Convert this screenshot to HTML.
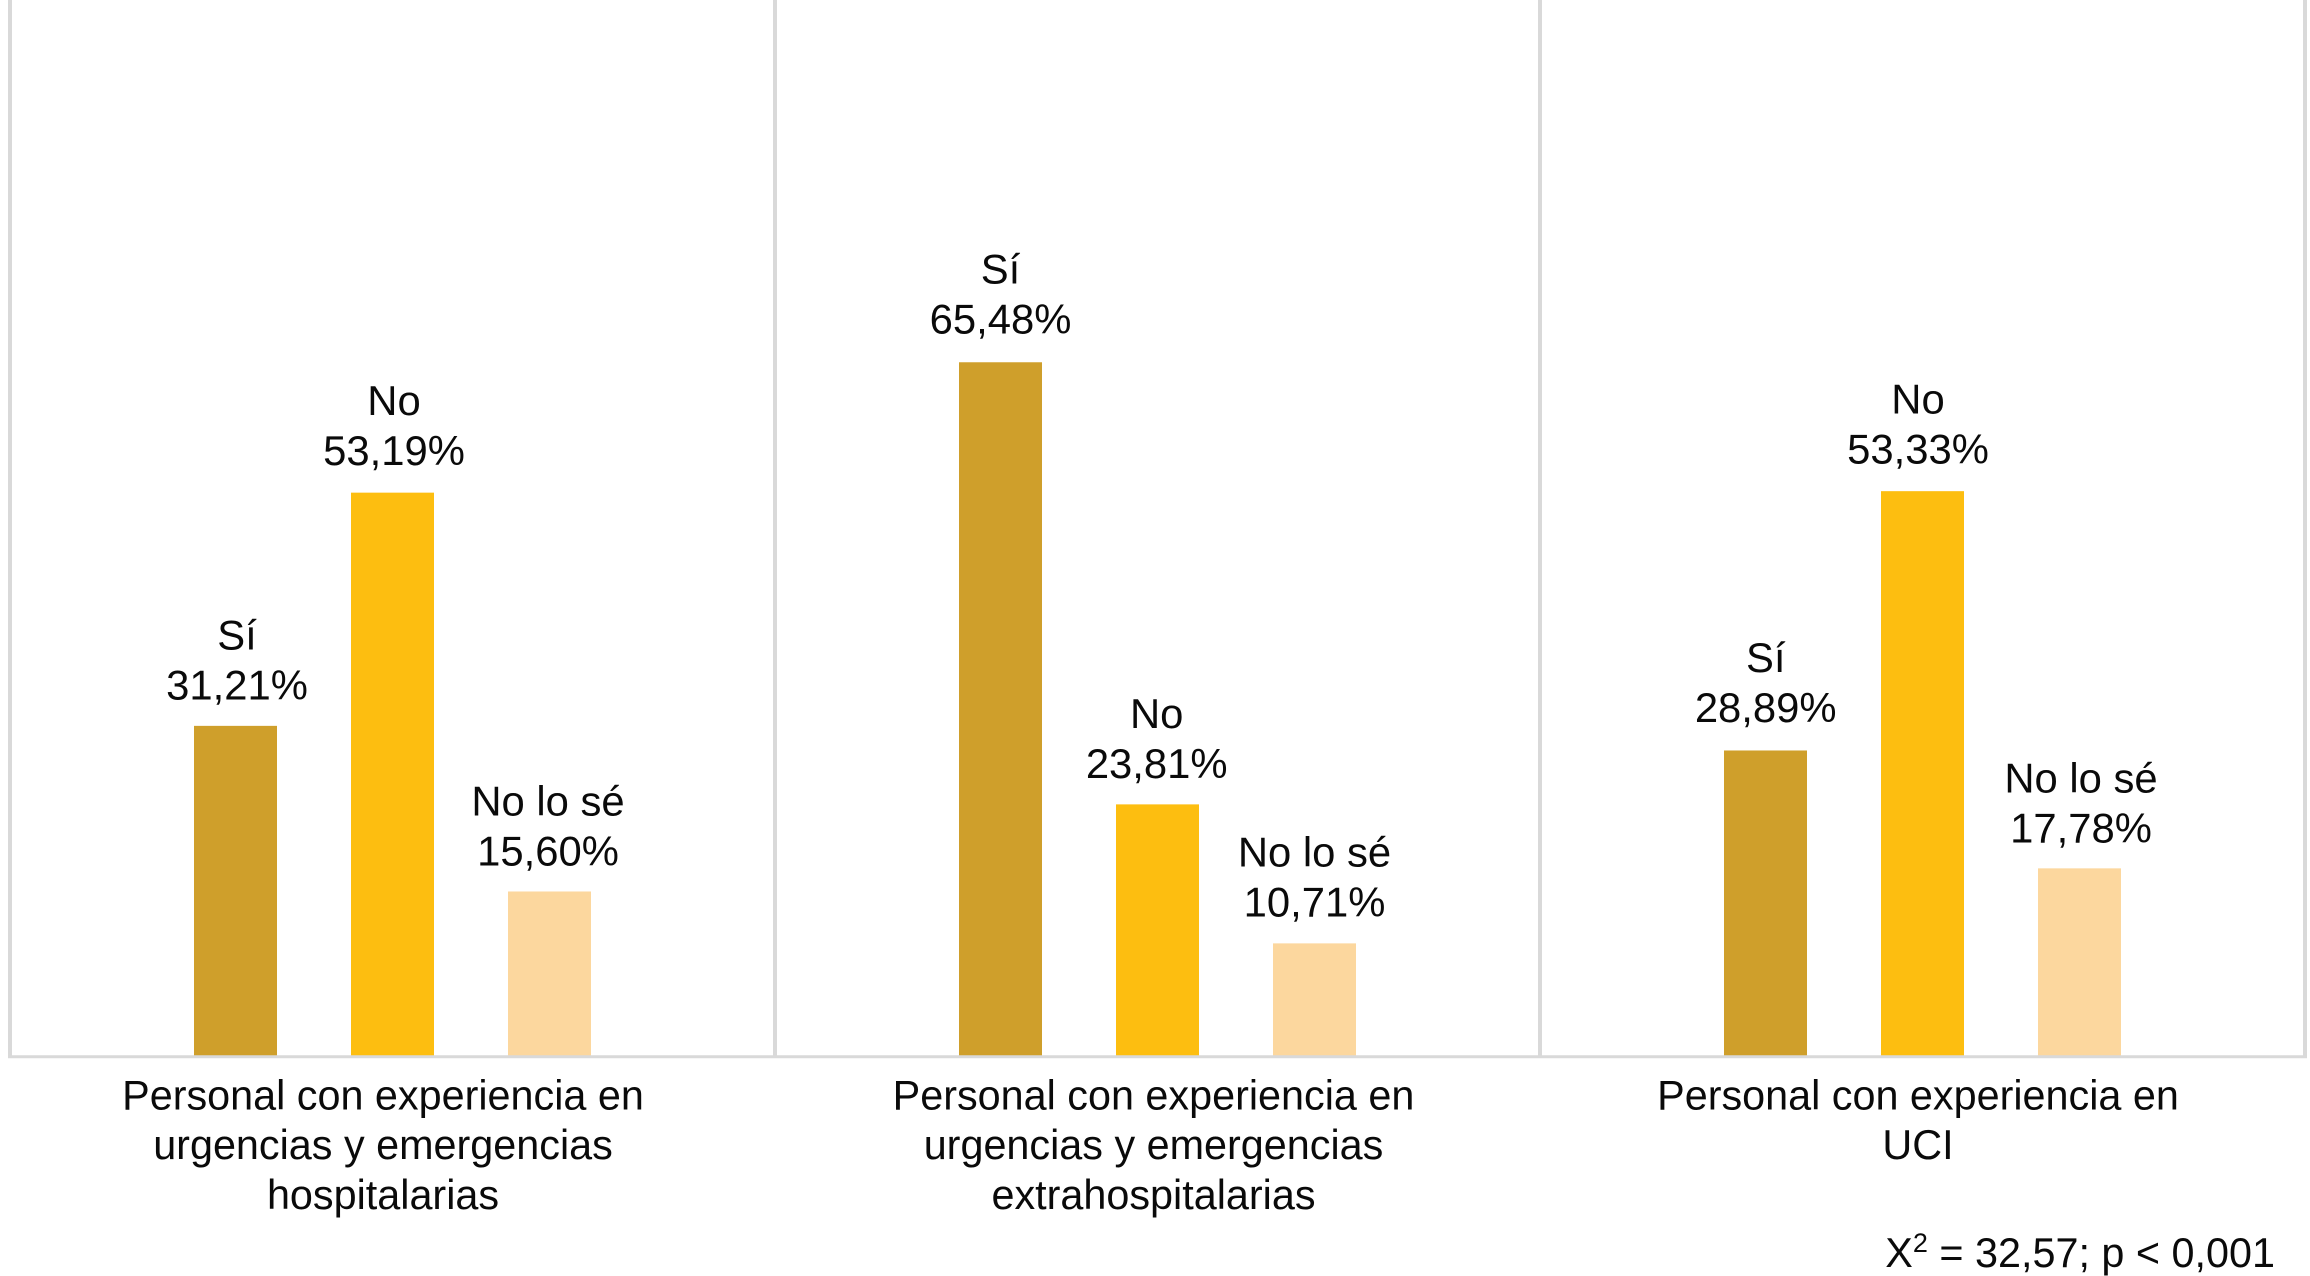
<!DOCTYPE html>
<html lang="es">
<head>
<meta charset="utf-8">
<title>Personal con experiencia</title>
<style>
html,body{margin:0;padding:0;background:#fff;width:2310px;height:1276px;overflow:hidden}
svg{display:block}
text{font-family:"Liberation Sans",Arial,sans-serif;font-size:41.8px;fill:#0a0a0a;text-anchor:middle}
text.cat,text.note{font-size:41.35px}
</style>
</head>
<body>
<svg id="chart" width="2310" height="1276" viewBox="0 0 2310 1276" xmlns="http://www.w3.org/2000/svg">
  <rect x="0" y="0" width="2310" height="1276" fill="#ffffff"/>
  <text class="note" x="2275" y="1267" style="text-anchor:end">X<tspan dy="-15" font-size="27">2</tspan><tspan dy="15"> = 32,57; p &lt; 0,001</tspan></text>
</svg>
<script>
const categories = [
  ["Personal con experiencia en", "urgencias y emergencias", "hospitalarias"],
  ["Personal con experiencia en", "urgencias y emergencias", "extrahospitalarias"],
  ["Personal con experiencia en", "UCI"]
];
const seriesNames = ["Sí", "No", "No lo sé"];
const siValues = [31.21, 65.48, 28.89];
const noValues = [53.19, 23.81, 53.33];
const unsureValues = [15.60, 10.71, 17.78];

const NS = "http://www.w3.org/2000/svg";
const svg = document.getElementById("chart");
const seriesValues = [siValues, noValues, unsureValues];
const seriesColors = ["#cf9f2b", "#fdbe10", "#fcd79e"];
const baseline = 1057, pxPerPercent = 10.61;
const panelLeft = 10, panelWidth = 765, barWidth = 83, barStep = 157, barStart = 225.5;
const yScale = v => baseline - v * pxPerPercent;
const panelX = p => panelLeft + p * panelWidth;
const barCenter = (p, s) => panelX(p) + barStart + s * barStep;
const fmt = v => v.toFixed(2).replace(".", ",") + "%";
// manual label placement nudges (px), one row per panel
const nudgeX = [[2.5, 2.5, -0.5], [1, 0.2, 1], [1.2, -3.5, 2.5]];
const nudgeY = [[1.6, 0.3, 2], [-0.7, 1.4, 1], [-0.3, 0.3, 2]];
const catShift = [-9.5, -4, -4.5];

function addText(x, y, str, cls) {
  const t = document.createElementNS(NS, "text");
  t.setAttribute("x", x);
  t.setAttribute("y", y);
  if (cls) t.setAttribute("class", cls);
  t.textContent = str;
  svg.appendChild(t);
  return t;
}

categories.forEach((lines, p) => {
  seriesNames.forEach((name, s) => {
    const v = seriesValues[s][p];
    const cx = barCenter(p, s);
    const r = document.createElementNS(NS, "rect");
    r.setAttribute("x", cx - barWidth / 2);
    r.setAttribute("y", yScale(v));
    r.setAttribute("width", barWidth);
    r.setAttribute("height", baseline - yScale(v));
    r.setAttribute("fill", seriesColors[s]);
    
    
    svg.appendChild(r);

    const lx = cx + nudgeX[p][s] - 1;
    const ly = yScale(v) + nudgeY[p][s];
    const valueLabel = addText(lx, ly - 28, fmt(v));
    
    

    const nameLabel = addText(lx, ly - 78, name);
    
    
  });

  lines.forEach((line, i) => {
    const c = addText(panelX(p) + panelWidth / 2 + catShift[p], 1109.5 + i * 49.7, line, "cat");
    
    
  });
});

for (let i = 0; i <= categories.length; i++) {
  const l = document.createElementNS(NS, "line");
  l.setAttribute("x1", panelX(i));
  l.setAttribute("x2", panelX(i));
  l.setAttribute("y1", 0);
  l.setAttribute("y2", 1058);
  l.setAttribute("stroke", "#d9d9d9");
  l.setAttribute("stroke-width", 4);
  
  
  svg.insertBefore(l, svg.children[1]);
}

const axis = document.createElementNS(NS, "line");
axis.setAttribute("x1", panelX(0) - 2);
axis.setAttribute("x2", panelX(categories.length) + 2);
axis.setAttribute("y1", 1056.7);
axis.setAttribute("y2", 1056.7);
axis.setAttribute("stroke", "#d9d9d9");
axis.setAttribute("stroke-width", 3);


svg.appendChild(axis);
</script>
</body>
</html>
